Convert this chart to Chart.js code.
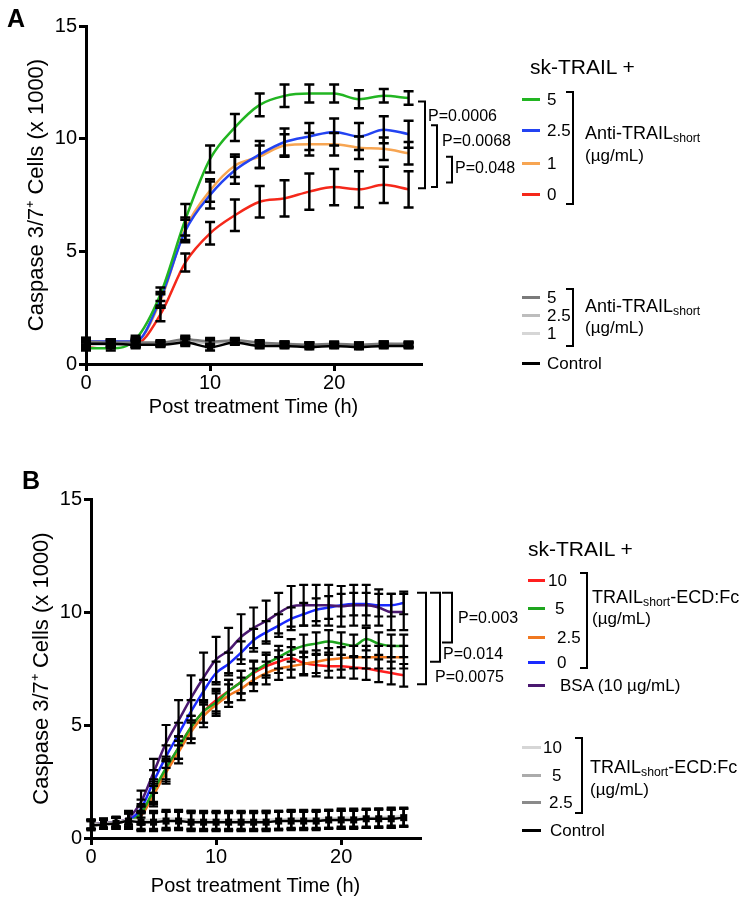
<!DOCTYPE html>
<html>
<head>
<meta charset="utf-8">
<script src="https://cdn.jsdelivr.net/npm/chart.js@4.4.1/dist/chart.umd.min.js"></script>
<style>
body { margin: 0; background: #fff; font-family: "Liberation Sans", Arial, sans-serif; }
#page { position: relative; width: 750px; height: 907px; overflow: hidden; }
canvas { position: absolute; left: 0; }
.t { position: absolute; white-space: nowrap; color: #000; line-height: 1; }
.t sub { font-size: 0.68em; vertical-align: -0.25em; line-height: 0; }
.sw { position: absolute; height: 3px; }
.br { position: absolute; border: 2px solid #000; border-left: none; width: 6px; }
</style>
</head>
<body>
<div id="page">
  <canvas id="cA" width="750" height="440" style="top:0"></canvas>
  <canvas id="cB" width="750" height="457" style="top:450px"></canvas>
</div>
<script>
// ---- panel A: sk-TRAIL + anti-TRAILshort, every 2 h ----
var timesA = [0, 2, 4, 6, 8, 10, 12, 14, 16, 18, 20, 22, 24, 26];
var aAnti5   = [0.7, 0.7, 1.1, 3.1, 6.4, 9.1, 10.5, 11.5, 11.9, 12.0, 12.0, 11.75, 11.9, 11.8];
var aAnti5E  = [0.1, 0.1, 0.15, 0.3, 0.7, 0.6, 0.6, 0.5, 0.5, 0.4, 0.4, 0.4, 0.3, 0.3];
var aAnti25  = [1.0, 1.0, 1.0, 2.9, 5.9, 7.5, 8.6, 9.3, 9.85, 10.1, 10.3, 10.1, 10.4, 10.2];
var aAnti25E = [0.15, 0.1, 0.15, 0.3, 0.5, 0.6, 0.6, 0.6, 0.6, 0.6, 0.6, 0.6, 0.6, 0.6];
var aAnti1   = [1.0, 1.0, 1.0, 2.8, 6.0, 7.7, 8.8, 9.2, 9.7, 9.75, 9.75, 9.6, 9.55, 9.35];
var aAnti1E  = [0.15, 0.1, 0.15, 0.3, 0.5, 0.5, 0.5, 0.5, 0.5, 0.5, 0.5, 0.5, 0.5, 0.5];
var aAnti0   = [0.8, 0.9, 0.9, 2.2, 4.5, 5.8, 6.6, 7.2, 7.35, 7.65, 7.85, 7.75, 7.95, 7.75];
var aAnti0E  = [0.15, 0.1, 0.15, 0.3, 0.4, 0.5, 0.7, 0.7, 0.8, 0.8, 0.8, 0.8, 0.8, 0.8];
// anti-TRAILshort alone and control
var aOnly5   = [1.0, 0.95, 0.95, 0.95, 1.1, 1.0, 1.05, 0.95, 0.9, 0.85, 0.9, 0.85, 0.9, 0.9];
var aOnly25  = [0.9, 0.9, 0.9, 0.9, 1.0, 0.95, 1.0, 0.9, 0.9, 0.85, 0.85, 0.85, 0.9, 0.85];
var aOnly1   = [0.85, 0.85, 0.9, 0.9, 1.05, 0.9, 1.0, 0.9, 0.85, 0.85, 0.85, 0.8, 0.85, 0.85];
var aCtrl    = [0.9, 0.9, 0.85, 0.85, 0.95, 0.75, 0.95, 0.8, 0.8, 0.75, 0.8, 0.75, 0.8, 0.8];
var aLowE    = [0.15, 0.15, 0.15, 0.1, 0.15, 0.15, 0.1, 0.1, 0.1, 0.1, 0.1, 0.1, 0.1, 0.1];

// ---- panel B: sk-TRAIL + TRAILshort-ECD:Fc, every 1 h ----
var timesB = [0,1,2,3,4,5,6,7,8,9,10,11,12,13,14,15,16,17,18,19,20,21,22,23,24,25];
var bFc10  = [0.6,0.65,0.7,0.8,1.0,2.0,3.0,4.0,4.9,5.6,6.1,6.5,6.9,7.3,7.6,7.8,7.95,7.75,7.65,7.6,7.6,7.55,7.5,7.4,7.3,7.2];
var bFc5   = [0.6,0.65,0.7,0.8,1.1,2.1,3.1,4.0,4.9,5.6,6.0,6.5,6.9,7.35,7.7,8.0,8.3,8.5,8.6,8.7,8.6,8.5,8.8,8.6,8.5,8.5];
var bFc25  = [0.6,0.65,0.7,0.8,1.0,1.9,2.9,3.8,4.7,5.4,5.9,6.3,6.6,7.0,7.3,7.5,7.6,7.7,7.8,7.9,7.95,8.0,8.0,8.0,8.0,8.0];
var bFc0   = [0.6,0.65,0.7,0.8,1.3,2.5,3.6,4.6,5.6,6.5,7.3,7.7,8.2,8.75,9.1,9.4,9.7,9.9,10.1,10.2,10.3,10.35,10.35,10.3,10.3,10.4];
var bBsa   = [0.6,0.65,0.7,0.9,1.6,2.9,4.2,5.2,6.2,7.1,7.9,8.3,8.9,9.3,9.6,9.95,10.25,10.3,10.3,10.3,10.25,10.3,10.3,10.2,10.0,10.0];
var bMidE  = [0.2,0.2,0.2,0.3,0.4,0.5,0.5,0.5,0.5,0.5,0.5,0.5,0.5,0.5,0.5,0.5,0.5,0.5,0.5,0.5,0.5,0.5,0.5,0.5,0.5,0.5];
var bBsaE  = [0.2,0.2,0.2,0.3,0.5,0.6,0.8,0.9,1.0,1.1,1.0,1.0,1.0,0.9,0.9,0.9,0.9,0.9,0.9,0.9,0.9,0.9,0.9,0.8,0.8,0.8];
var bOnly10 = [0.6,0.65,0.7,0.8,0.8,0.8,0.85,0.85,0.8,0.8,0.8,0.8,0.8,0.8,0.8,0.8,0.85,0.85,0.85,0.85,0.9,0.9,0.9,0.9,0.95,0.95];
var bOnly5  = [0.6,0.6,0.65,0.75,0.75,0.75,0.8,0.8,0.8,0.75,0.75,0.75,0.75,0.75,0.8,0.8,0.8,0.8,0.8,0.85,0.85,0.85,0.85,0.9,0.9,0.9];
var bOnly25 = [0.55,0.6,0.65,0.75,0.75,0.75,0.75,0.8,0.75,0.75,0.75,0.75,0.75,0.75,0.75,0.75,0.8,0.8,0.8,0.8,0.8,0.85,0.85,0.85,0.85,0.9];
var bCtrl   = [0.55,0.6,0.65,0.75,0.7,0.7,0.75,0.75,0.7,0.7,0.7,0.7,0.7,0.7,0.7,0.75,0.75,0.75,0.75,0.8,0.8,0.8,0.85,0.85,0.85,0.9];
var bLowE   = [0.2,0.2,0.25,0.35,0.4,0.4,0.4,0.4,0.4,0.4,0.4,0.4,0.4,0.4,0.4,0.4,0.4,0.4,0.4,0.4,0.4,0.4,0.4,0.4,0.4,0.4];

var yTicks = [0, 5, 10, 15];
var xTicks = [0, 10, 20];

function series(times, vals, err, color, extra) {
  return Object.assign({
    data: times.map(function (t, i) { return { x: t, y: vals[i] }; }),
    err: err,
    borderColor: color,
    backgroundColor: color,
    borderWidth: 2.5,
    pointRadius: 0,
    cubicInterpolationMode: 'monotone'
  }, extra || {});
}

// black SD bars with caps, drawn over the lines
var errorBars = {
  id: 'errorBars',
  afterDatasetsDraw: function (chart, args, opts) {
    var ctx = chart.ctx, xs = chart.scales.x, ys = chart.scales.y;
    ctx.save();
    ctx.strokeStyle = '#000';
    ctx.lineWidth = opts.width;
    chart.data.datasets.forEach(function (ds) {
      if (!ds.err) return;
      ds.data.forEach(function (p, j) {
        var x = xs.getPixelForValue(p.x);
        var y1 = ys.getPixelForValue(p.y + ds.err[j]);
        var y2 = ys.getPixelForValue(p.y - ds.err[j]);
        ctx.beginPath();
        ctx.moveTo(x, y1); ctx.lineTo(x, y2);
        ctx.moveTo(x - opts.cap, y1); ctx.lineTo(x + opts.cap, y1);
        ctx.moveTo(x - opts.cap, y2); ctx.lineTo(x + opts.cap, y2);
        ctx.stroke();
      });
    });
    ctx.restore();
  }
};

// significance brackets right of the plot
var pBrackets = {
  id: 'pBrackets',
  afterDraw: function (chart, args, opts) {
    var ctx = chart.ctx, area = chart.chartArea, ys = chart.scales.y;
    ctx.save();
    ctx.strokeStyle = '#000';
    ctx.fillStyle = '#000';
    ctx.lineWidth = 2;
    ctx.font = '16px "Liberation Sans", Arial, sans-serif';
    ctx.textBaseline = 'middle';
    opts.items.forEach(function (b) {
      var x = area.right + b.dx;
      var y1 = ys.getPixelForValue(b.top), y2 = ys.getPixelForValue(b.bottom);
      ctx.beginPath();
      ctx.moveTo(x - b.w, y1); ctx.lineTo(x, y1); ctx.lineTo(x, y2); ctx.lineTo(x - b.w, y2);
      ctx.stroke();
      ctx.fillText(b.text, area.right + b.tx, ys.getPixelForValue(b.ty));
    });
    ctx.restore();
  }
};

function makeChart(id, datasets, cfg) {
  var font = '"Liberation Sans", Arial, sans-serif';
  return new Chart(document.getElementById(id), {
    type: 'line',
    data: { datasets: datasets },
    plugins: [errorBars, pBrackets],
    options: {
      responsive: false,
      animation: false,
      layout: { padding: { left: 0, top: cfg.top, right: cfg.right, bottom: 0 } },
      plugins: {
        legend: { display: false },
        tooltip: { enabled: false },
        errorBars: { width: cfg.barWidth, cap: cfg.cap },
        pBrackets: { items: cfg.brackets }
      },
      scales: {
        x: {
          type: 'linear', min: 0, max: cfg.xMax,
          afterFit: function (s) { s.height = cfg.xHeight; },
          afterBuildTicks: function (s) { s.ticks = xTicks.map(function (v) { return { value: v }; }); },
          border: { color: '#000', width: 3 },
          grid: { drawOnChartArea: false, color: '#000', lineWidth: 3, tickLength: 7 },
          ticks: { color: '#000', padding: 0, font: { family: font, size: 20 } },
          title: { display: true, text: 'Post treatment Time (h)', color: '#000',
                   font: { family: font, size: 20 }, padding: { top: 0, bottom: cfg.xTitlePad } }
        },
        y: {
          min: 0, max: 15,
          afterFit: function (s) { s.width = cfg.yWidth; },
          afterBuildTicks: function (s) { s.ticks = yTicks.map(function (v) { return { value: v }; }); },
          border: { color: '#000', width: 3 },
          grid: { drawOnChartArea: false, color: '#000', lineWidth: 3, tickLength: 7 },
          ticks: { color: '#000', padding: 2, font: { family: font, size: 20 } },
          title: { display: true, text: 'Caspase 3/7\u207A Cells (x 1000)', color: '#000',
                   font: { family: font, size: 22 }, padding: { top: cfg.yTitlePad, bottom: 0 } }
        }
      }
    }
  });
}

var sq = { pointStyle: 'rect', pointRadius: 4.5, pointBackgroundColor: '#000', pointBorderWidth: 0 };

makeChart('cA', [
  series(timesA, aCtrl, aLowE, '#000', sq),
  series(timesA, aOnly5, aLowE, '#7a7a7a'),
  series(timesA, aOnly25, aLowE, '#bdbdbd'),
  series(timesA, aOnly1, aLowE, '#d6d6d6'),
  series(timesA, aAnti5, aAnti5E, '#22b522'),
  series(timesA, aAnti25, aAnti25E, '#2343f2'),
  series(timesA, aAnti1, aAnti1E, '#f7a552'),
  series(timesA, aAnti0, aAnti0E, '#f5281a')
], {
  top: 26, right: 329, xMax: 27, xHeight: 76, yWidth: 86, xTitlePad: 21, yTitlePad: 24,
  barWidth: 2.5, cap: 5,
  brackets: [
    { top: 11.65, bottom: 7.8, dx: 4, w: 7, text: 'P=0.0006', tx: 7, ty: 10.98 },
    { top: 10.6, bottom: 7.85, dx: 16, w: 6, text: 'P=0.0068', tx: 21, ty: 9.87 },
    { top: 9.2, bottom: 8.05, dx: 31, w: 6, text: 'P=0.048', tx: 34, ty: 8.67 }
  ]
});

makeChart('cB', [
  series(timesB, bCtrl, bLowE, '#000', Object.assign({}, sq, { pointRadius: 5 })),
  series(timesB, bOnly10, bLowE, '#d6d6d6'),
  series(timesB, bOnly5, bLowE, '#ababab'),
  series(timesB, bOnly25, bLowE, '#8a8a8a'),
  series(timesB, bBsa, bBsaE, '#4a1870'),
  series(timesB, bFc0, bMidE, '#1a2aff'),
  series(timesB, bFc5, bMidE, '#1ea51e'),
  series(timesB, bFc25, bMidE, '#f07820'),
  series(timesB, bFc10, bMidE, '#ff1f1f')
], {
  top: 49, right: 330, xMax: 26.3, xHeight: 69, yWidth: 91, xTitlePad: 9, yTitlePad: 29,
  barWidth: 2.2, cap: 4.5,
  brackets: [
    { top: 10.85, bottom: 8.65, dx: 32, w: 10, text: 'P=0.003', tx: 38, ty: 9.69 },
    { top: 10.85, bottom: 7.8, dx: 20, w: 10, text: 'P=0.014', tx: 23, ty: 8.1 },
    { top: 10.85, bottom: 6.8, dx: 6, w: 9, text: 'P=0.0075', tx: 15, ty: 7.08 }
  ]
});

// ---- panel letters and legends (HTML text) ----
var page = document.getElementById('page');
function txt(x, cy, html, size, bold) {
  var d = document.createElement('div');
  d.className = 't';
  d.innerHTML = html;
  d.style.left = x + 'px';
  d.style.top = (cy - size * 0.5) + 'px';
  d.style.fontSize = size + 'px';
  if (bold) d.style.fontWeight = 'bold';
  page.appendChild(d);
}
function swatch(x, cy, w, color) {
  var d = document.createElement('div');
  d.className = 'sw';
  d.style.left = x + 'px'; d.style.top = (cy - 1.5) + 'px';
  d.style.width = w + 'px'; d.style.background = color;
  page.appendChild(d);
}
function bracket(x, y1, y2) {
  var d = document.createElement('div');
  d.className = 'br';
  d.style.left = (x - 8) + 'px'; d.style.top = y1 + 'px';
  d.style.height = (y2 - y1 - 4) + 'px';
  page.appendChild(d);
}

txt(7, 18, 'A', 25, true);
txt(22, 480, 'B', 25, true);

// legend A
txt(530, 66, 'sk-TRAIL +', 21);
[['5', 99, '#22b522'], ['2.5', 130, '#2343f2'], ['1', 163, '#f7a552'], ['0', 194, '#f5281a']].forEach(function (r) {
  swatch(522, r[1], 18, r[2]); txt(547, r[1], r[0], 17);
});
bracket(574, 91, 205);
txt(585, 133, 'Anti-TRAIL<sub>short</sub>', 18);
txt(585, 155, '(\u00B5g/mL)', 17);
[['5', 297, '#7a7a7a'], ['2.5', 315, '#bdbdbd'], ['1', 333, '#d6d6d6'], ['Control', 363, '#000']].forEach(function (r) {
  swatch(522, r[1], 18, r[2]); txt(547, r[1], r[0], 17);
});
bracket(574, 288, 347);
txt(585, 306, 'Anti-TRAIL<sub>short</sub>', 18);
txt(585, 327, '(\u00B5g/mL)', 17);

// legend B
txt(528, 548, 'sk-TRAIL +', 21);
[['10', 580, '#ff1f1f', 548], ['5', 608, '#1ea51e', 555], ['2.5', 637, '#f07820', 557],
 ['0', 662, '#1a2aff', 557], ['BSA (10 \u00B5g/mL)', 685, '#4a1870', 560]].forEach(function (r) {
  swatch(528, r[1], 17, r[2]); txt(r[3], r[1], r[0], 17);
});
bracket(588, 572, 669);
txt(592, 597, 'TRAIL<sub>short</sub>-ECD:Fc', 18);
txt(592, 618, '(\u00B5g/mL)', 17);
[['10', 747, '#d6d6d6', 543], ['5', 775, '#ababab', 552], ['2.5', 802, '#8a8a8a', 549], ['Control', 830, '#000', 550]].forEach(function (r) {
  swatch(522, r[1], 19, r[2]); txt(r[3], r[1], r[0], 17);
});
bracket(583, 737, 814);
txt(590, 767, 'TRAIL<sub>short</sub>-ECD:Fc', 18);
txt(590, 789, '(\u00B5g/mL)', 17);
</script>
</body>
</html>
